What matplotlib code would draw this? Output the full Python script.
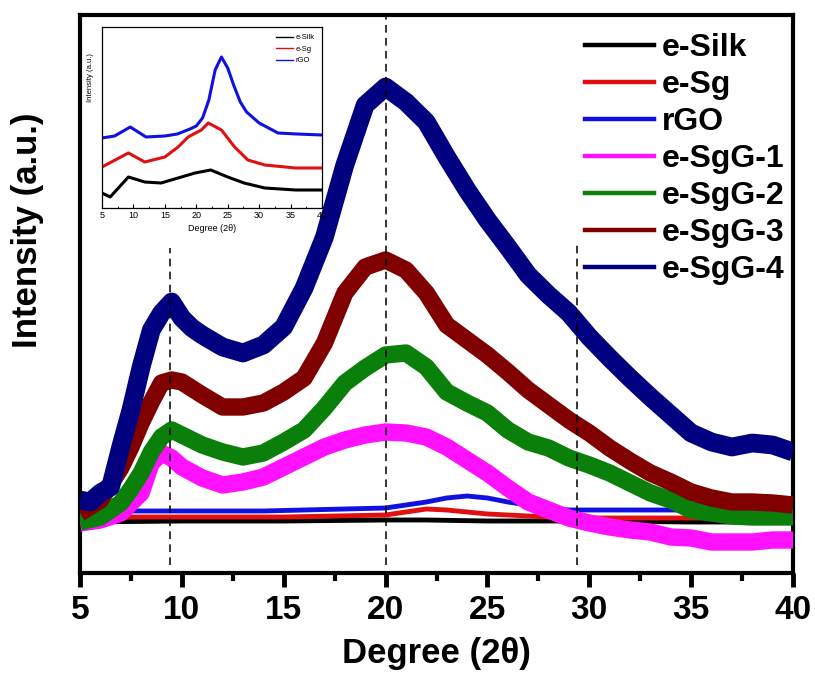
import matplotlib
matplotlib.use("Agg")
import matplotlib.pyplot as plt
from matplotlib.lines import Line2D
from matplotlib.ticker import MultipleLocator

plt.rcParams['font.family'] = ['Liberation Sans', 'DejaVu Sans']
plt.rcParams['font.weight'] = 'bold'

# ---------------- main-panel data (arbitrary intensity units) ----------------
x_silk = [5, 10, 15, 20, 22, 25, 30, 35, 40]
y_silk = [51, 52, 52, 53, 53, 52, 52, 51, 51]

x_sg = [5, 6, 10, 15, 20, 21, 22, 23, 24, 25, 26, 28, 30, 35, 40]
y_sg = [54, 56, 56, 56, 58, 61, 64, 63, 61, 59, 58, 56, 55, 55, 55]

x_rgo = [5, 6, 8, 10, 12, 14, 16, 18, 20, 21, 22, 23, 24, 25, 26, 27, 28, 29, 30, 32, 34, 35]
y_rgo = [58, 62, 62, 62, 62, 62, 63, 64, 65, 68, 71, 75, 77, 75, 71, 68, 65, 63, 63, 63, 63, 63]

x_g1 = [5, 6, 7, 8, 8.5, 9, 9.5, 10, 11, 12, 13, 14, 15, 16, 17, 18, 19, 20, 21, 22,
        23, 24, 25, 26, 27, 28, 29, 30, 31, 32, 33, 34, 35, 36, 37, 38, 39, 40]
y_g1 = [50, 53, 60, 80, 110, 120, 115, 106, 95, 88, 91, 96, 106, 116, 126, 133, 138, 141, 140, 136,
        126, 113, 100, 85, 71, 63, 55, 50, 46, 43, 41, 36, 35, 31, 31, 31, 33, 33]

x_g2 = [5, 6, 7, 7.5, 8, 8.5, 9, 9.5, 10, 11, 12, 13, 14, 15, 16, 17, 18, 19, 20, 21, 22,
        23, 24, 25, 26, 27, 28, 29, 30, 31, 32, 33, 34, 35, 36, 37, 38, 39, 40]
y_g2 = [51, 56, 70, 84, 100, 121, 136, 143, 138, 128, 121, 116, 120, 131, 143, 165, 190, 205, 218, 220, 206,
        181, 170, 160, 143, 131, 125, 115, 108, 100, 90, 80, 73, 63, 60, 57, 56, 56, 56]

x_g3 = [5, 6, 7, 7.5, 8, 8.5, 9, 9.5, 10, 11, 12, 13, 14, 15, 16, 17, 18, 19, 20, 21, 22,
        23, 24, 25, 26, 27, 28, 29, 30, 31, 32, 33, 34, 35, 36, 37, 38, 39, 40]
y_g3 = [60, 73, 105, 126, 150, 171, 190, 193, 191, 178, 166, 166, 170, 181, 195, 230, 280, 306, 313, 303, 280,
        248, 233, 218, 201, 183, 168, 153, 140, 125, 112, 100, 91, 81, 75, 71, 71, 70, 68]

x_g4 = [5, 5.5, 6, 6.5, 7, 7.5, 8, 8.5, 9, 9.5, 10, 10.5, 11, 12, 13, 14, 15, 16, 17, 18, 19, 20,
        21, 22, 23, 24, 25, 26, 27, 28, 29, 30, 31, 32, 33, 34, 35, 36, 37, 38, 39, 40]
y_g4 = [73, 71, 80, 86, 126, 163, 206, 243, 260, 271, 255, 245, 238, 226, 220, 228, 246, 285, 336, 408, 468, 486,
        471, 451, 416, 383, 353, 326, 298, 278, 260, 236, 215, 195, 176, 158, 140, 131, 126, 130, 128, 121]

peak_positions = [9.4, 20.0, 29.4]
peak_tops = [325, 558, 328]

labels = ['e-Silk', 'e-Sg', 'rGO', 'e-SgG-1', 'e-SgG-2', 'e-SgG-3', 'e-SgG-4']
colors = ['#000000', '#e01010', '#1010e0', '#ff10ff', '#0a800a', '#800000', '#000080']

# ---------------- inset data ----------------
xi_silk = [5, 6.3, 9.2, 11.8, 14.4, 17.1, 19.8, 22.3, 25, 27.6, 30.9, 35.8, 40]
yi_silk = [15, 11, 31, 26, 25, 30, 35, 38, 31, 25, 20, 18, 18]
xi_sg = [5, 9.2, 11.8, 15, 17.1, 18.7, 20.8, 21.9, 24, 26.1, 28.2, 30.9, 35.8, 40]
yi_sg = [41, 55, 46, 51, 61, 71, 78, 85, 78, 61, 48, 43, 40, 40]
xi_rgo = [5, 7, 9.5, 12, 15, 17, 19, 20, 21, 22, 23, 24, 25, 26, 27, 28, 30, 33, 36, 40]
yi_rgo = [70, 72, 81, 71, 72, 74, 79, 82, 90, 108, 138, 151, 140, 122, 106, 96, 85, 75, 74, 73]

W, H = 815, 675
fig = plt.figure(figsize=(W / 100, H / 100), dpi=100)
ax = fig.add_axes([80 / W, (H - 573) / H, 713 / W, (573 - 15) / H])

main_x = [x_silk, x_sg, x_rgo, x_g1, x_g2, x_g3, x_g4]
main_y = [y_silk, y_sg, y_rgo, y_g1, y_g2, y_g3, y_g4]
widths = [3.5, 3.5, 3.5, 12.5, 12.5, 12.5, 13.5]
order = [0, 1, 2, 6, 5, 4, 3]
for i in order:
    ax.plot(main_x[i], main_y[i], color=colors[i], lw=widths[i],
            solid_joinstyle='round', solid_capstyle='butt', zorder=3 + i * 0.1)

for xp, top in zip(peak_positions, peak_tops):
    ax.plot([xp, xp], [8, top], color='black', lw=1.1, ls=(0, (5, 3.5)), zorder=5)

ax.set_xlim(5, 40)
ax.set_ylim(0, 558)
ax.set_yticks([])
ax.xaxis.set_major_locator(MultipleLocator(5))
ax.xaxis.set_minor_locator(MultipleLocator(2.5))
ax.tick_params(axis='x', which='major', direction='out', length=10, width=3.5,
               labelsize=24, pad=6, top=False)
ax.tick_params(axis='x', which='minor', direction='out', length=6, width=3, top=False)
for s in ax.spines.values():
    s.set_linewidth(3)
ax.set_xlabel('Degree (2θ)', fontsize=25, fontweight='bold', labelpad=8)
ax.set_ylabel('Intensity (a.u.)', fontsize=25, fontweight='bold')
ax.yaxis.set_label_coords(-0.05, 0.615)

handles = [Line2D([0], [0], color=c, lw=3.2) for c in colors]
leg = ax.legend(handles, labels, loc='upper left', bbox_to_anchor=((585 - 80) / 713, 1 - (33 - 15) / 558),
                frameon=False, fontsize=23, handlelength=2.15, handletextpad=0.25,
                labelspacing=0.22, borderpad=0, borderaxespad=0)
for t in leg.get_texts():
    t.set_fontweight('bold')

# ---------------- inset ----------------
ins = fig.add_axes([102 / W, (H - 208) / H, 220 / W, (208 - 27) / H])
ins.plot(xi_silk, yi_silk, color=colors[0], lw=2.2)
ins.plot(xi_sg, yi_sg, color=colors[1], lw=2.2)
ins.plot(xi_rgo, yi_rgo, color=colors[2], lw=2.2)
ins.set_xlim(5, 40)
ins.set_ylim(0, 181)
ins.set_yticks([])
ins.xaxis.set_major_locator(MultipleLocator(5))
ins.xaxis.set_minor_locator(MultipleLocator(2.5))
ins.tick_params(axis='x', which='major', direction='in', length=3, width=0.8, labelsize=6.5, pad=2)
ins.tick_params(axis='x', which='minor', direction='in', length=1.8, width=0.6)
for s in ins.spines.values():
    s.set_linewidth(0.9)
for t in ins.get_xticklabels():
    t.set_fontweight('normal')
ins.set_xlabel('Degree (2θ)', fontsize=6.5, fontweight='normal', labelpad=3)
ins.set_ylabel('Intensity (a.u.)', fontsize=5.5, fontweight='normal', labelpad=3)
ins.yaxis.set_label_coords(-0.035, 0.72)
il = ins.legend([Line2D([0], [0], color=c, lw=1) for c in colors[:3]], labels[:3],
                loc='upper right', frameon=False, fontsize=5.5, handlelength=2.2,
                handletextpad=0.4, labelspacing=0.55, borderpad=0.4)
for t in il.get_texts():
    t.set_fontweight('normal')

fig.savefig('out.png', dpi=100)
